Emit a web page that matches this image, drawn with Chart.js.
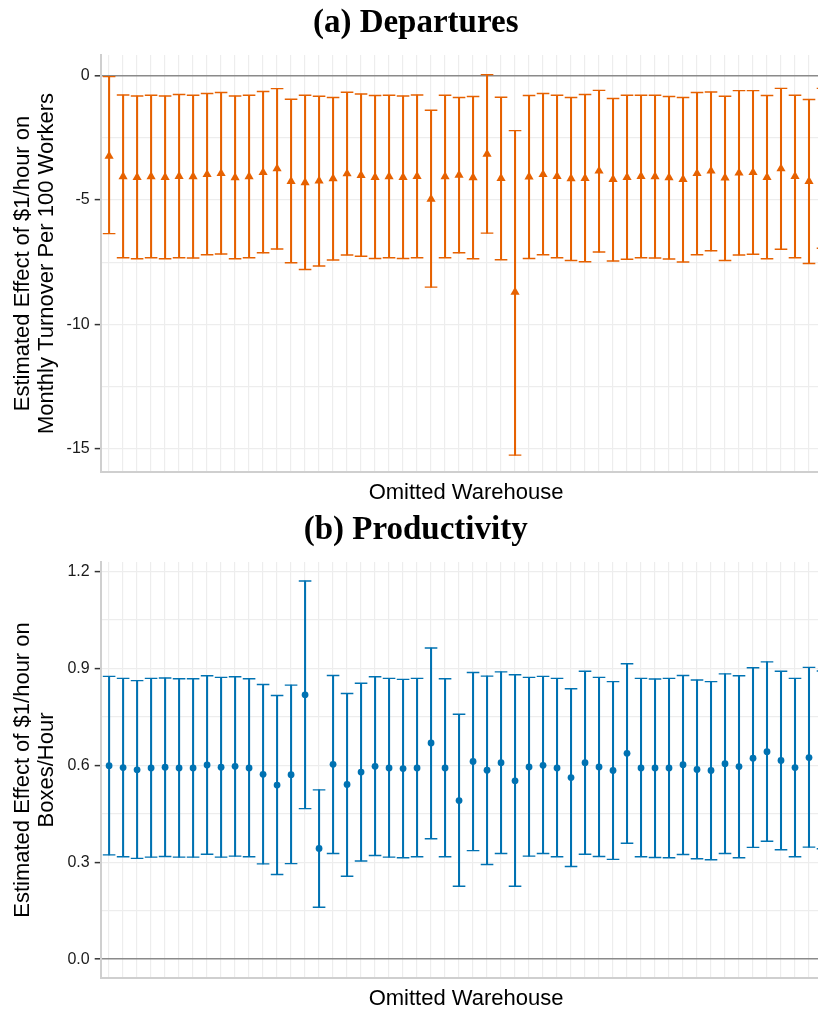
<!DOCTYPE html>
<html>
<head>
<meta charset="utf-8">
<title>Leave-one-out estimates</title>
<script src="https://cdn.jsdelivr.net/npm/chart.js@4.4.1/dist/chart.umd.min.js"></script>
<style>
  html, body { margin: 0; padding: 0; background: #fff; overflow: hidden; }
  .panel { position: absolute; left: 0; width: 840px; }
</style>
</head>
<body>
<div class="panel" style="top:0;height:505px"><canvas id="departures" width="840" height="505"></canvas></div>
<div class="panel" style="top:507px;height:504px"><canvas id="productivity" width="840" height="504"></canvas></div>
<script>
// one estimate per omitted warehouse
var warehouses = [1, 2, 3, 4, 5, 6, 7, 8, 9, 10, 11, 12, 13, 14, 15, 16, 17, 18, 19, 20,
  21, 22, 23, 24, 25, 26, 27, 28, 29, 30, 31, 32, 33, 34, 35, 36, 37, 38, 39, 40,
  41, 42, 43, 44, 45, 46, 47, 48, 49, 50, 51, 52];

// (a) departures: point estimate and 95% CI
var depEst = [-3.23, -4.06, -4.09, -4.06, -4.09, -4.05, -4.06, -3.97, -3.93, -4.10,
  -4.06, -3.89, -3.74, -4.25, -4.30, -4.23, -4.14, -3.94, -4.01, -4.09,
  -4.06, -4.09, -4.05, -4.96, -4.06, -4.00, -4.10, -3.15, -4.13, -8.70,
  -4.07, -3.97, -4.05, -4.14, -4.13, -3.83, -4.17, -4.09, -4.05, -4.06,
  -4.10, -4.17, -3.93, -3.83, -4.11, -3.91, -3.89, -4.09, -3.74, -4.05,
  -4.25, -3.73];
var depLo = [-6.35, -7.32, -7.36, -7.32, -7.36, -7.32, -7.33, -7.20, -7.17, -7.36,
  -7.32, -7.12, -6.97, -7.52, -7.79, -7.65, -7.41, -7.21, -7.26, -7.35,
  -7.32, -7.35, -7.32, -8.50, -7.32, -7.12, -7.36, -6.33, -7.40, -15.25,
  -7.35, -7.20, -7.32, -7.43, -7.48, -7.09, -7.45, -7.38, -7.32, -7.33,
  -7.37, -7.49, -7.20, -7.04, -7.43, -7.21, -7.18, -7.36, -6.98, -7.32,
  -7.55, -6.94];
var depHi = [-0.04, -0.78, -0.82, -0.79, -0.82, -0.76, -0.79, -0.72, -0.68, -0.82,
  -0.79, -0.64, -0.52, -0.95, -0.79, -0.83, -0.88, -0.67, -0.74, -0.80,
  -0.79, -0.82, -0.78, -1.39, -0.79, -0.88, -0.84, 0.04, -0.87, -2.21,
  -0.80, -0.72, -0.79, -0.88, -0.76, -0.59, -0.92, -0.79, -0.79, -0.79,
  -0.84, -0.88, -0.68, -0.66, -0.83, -0.60, -0.60, -0.80, -0.51, -0.79,
  -0.96, -0.51];

// (b) productivity
var prodEst = [0.599, 0.593, 0.586, 0.592, 0.594, 0.592, 0.592, 0.601, 0.594, 0.597,
  0.592, 0.572, 0.539, 0.571, 0.818, 0.343, 0.603, 0.541, 0.579, 0.597,
  0.592, 0.590, 0.592, 0.669, 0.592, 0.491, 0.612, 0.585, 0.608, 0.552,
  0.595, 0.600, 0.592, 0.562, 0.608, 0.595, 0.584, 0.637, 0.592, 0.592,
  0.592, 0.602, 0.587, 0.584, 0.605, 0.596, 0.622, 0.642, 0.615, 0.593,
  0.624, 0.617];
var prodLo = [0.323, 0.317, 0.312, 0.316, 0.318, 0.316, 0.316, 0.325, 0.316, 0.319,
  0.317, 0.295, 0.262, 0.296, 0.466, 0.161, 0.327, 0.257, 0.304, 0.321,
  0.316, 0.314, 0.317, 0.373, 0.317, 0.226, 0.336, 0.293, 0.327, 0.226,
  0.319, 0.327, 0.317, 0.287, 0.325, 0.318, 0.309, 0.359, 0.317, 0.315,
  0.314, 0.324, 0.311, 0.308, 0.327, 0.314, 0.346, 0.365, 0.339, 0.317,
  0.347, 0.342];
var prodHi = [0.875, 0.869, 0.862, 0.869, 0.870, 0.868, 0.868, 0.877, 0.872, 0.874,
  0.868, 0.850, 0.816, 0.848, 1.170, 0.524, 0.878, 0.822, 0.854, 0.874,
  0.869, 0.866, 0.869, 0.963, 0.868, 0.758, 0.887, 0.876, 0.889, 0.880,
  0.872, 0.875, 0.869, 0.837, 0.891, 0.872, 0.859, 0.914, 0.869, 0.867,
  0.869, 0.878, 0.864, 0.859, 0.883, 0.877, 0.902, 0.920, 0.891, 0.869,
  0.903, 0.892];

// y tick labels
var depTicks = [0, -5, -10, -15];
var prodTicks = [0.0, 0.3, 0.6, 0.9, 1.2];

Chart.defaults.font.family = "'Liberation Sans', Arial, sans-serif";

function onStep(v, step) {
  return Math.abs(v / step - Math.round(v / step)) < 1e-6;
}

function errorbarChart(id, cfg) {
  var pts = function(vals) {
    return warehouses.map(function(w, i) { return {x: w, y: vals[i]}; });
  };
  var isMajor = function(v) {
    return cfg.labels.some(function(t) { return Math.abs(t - v) < 1e-6; });
  };

  return new Chart(document.getElementById(id), {
    type: 'bar',
    data: {
      datasets: [
        { // point estimates
          type: 'scatter',
          data: pts(cfg.est),
          pointStyle: cfg.marker,
          pointRadius: cfg.markerSize,
          pointBackgroundColor: cfg.color,
          pointBorderWidth: 0,
          order: 0
        },
        { // upper caps
          type: 'scatter',
          data: pts(cfg.hi),
          pointStyle: 'line',
          pointRadius: 6.3,
          pointBorderColor: cfg.color,
          pointBorderWidth: 1.4,
          order: 1
        },
        { // lower caps
          type: 'scatter',
          data: pts(cfg.lo),
          pointStyle: 'line',
          pointRadius: 6.3,
          pointBorderColor: cfg.color,
          pointBorderWidth: 1.4,
          order: 1
        },
        { // whiskers as thin floating bars
          type: 'bar',
          data: warehouses.map(function(w, i) { return {x: w, y: [cfg.lo[i], cfg.hi[i]]}; }),
          backgroundColor: cfg.color,
          barThickness: 1.4,
          order: 2
        }
      ]
    },
    options: {
      responsive: false,
      animation: false,
      events: [],
      layout: {padding: {top: 0, right: 8.6, bottom: 0, left: 0}},
      plugins: {
        legend: {display: false},
        tooltip: {enabled: false},
        title: {
          display: true,
          text: cfg.title,
          color: '#000',
          font: {family: "'Liberation Serif', 'Times New Roman', serif", size: 33, weight: 'bold', lineHeight: 1.2},
          padding: {top: 4, bottom: 11.4}
        }
      },
      scales: {
        x: {
          type: 'linear',
          min: 0.4,
          max: 52.6,
          offset: false,
          border: {color: '#CFCFCF', width: 2},
          grid: {offset: false, color: '#EDEDED', lineWidth: 1.2, drawTicks: false},
          ticks: {display: false, stepSize: 1, autoSkip: false, includeBounds: false},
          title: {
            display: true,
            text: 'Omitted Warehouse',
            color: '#000',
            font: {size: 22, lineHeight: 1.1},
            padding: {top: 0, bottom: 0}
          },
          afterBuildTicks: function(s) {
            s.ticks = s.ticks.filter(function(t) { return onStep(t.value, 1); });
          },
          afterFit: function(s) { s.height = 33; }
        },
        y: {
          min: cfg.yMin,
          max: cfg.yMax,
          border: {color: '#CFCFCF', width: 2},
          grid: {
            color: function(c) { return c.tick && Math.abs(c.tick.value) < 1e-9 ? '#8A8A8A' : '#EDEDED'; },
            lineWidth: function(c) { return c.tick && Math.abs(c.tick.value) < 1e-9 ? 1.6 : 1.2; },
            tickColor: function(c) { return c.tick && isMajor(c.tick.value) ? '#333' : 'rgba(0,0,0,0)'; },
            tickLength: 6,
            tickWidth: 1.5
          },
          ticks: {
            stepSize: cfg.step,
            autoSkip: false,
            includeBounds: false,
            padding: 5,
            color: '#1a1a1a',
            font: {size: 16},
            callback: function(v) { return isMajor(v) ? cfg.fmt(v) : ''; }
          },
          title: {
            display: true,
            text: cfg.yTitle,
            color: '#000',
            font: {size: 22, lineHeight: 1.1},
            padding: {top: 11, bottom: 0}
          },
          afterBuildTicks: function(s) {
            s.ticks = s.ticks.filter(function(t) {
              return onStep(t.value, cfg.step) && t.value >= cfg.yMin && t.value <= cfg.yMax;
            });
          },
          afterFit: function(s) { s.width = 100.7; }
        }
      }
    }
  });
}

errorbarChart('departures', {
  title: '(a) Departures',
  yTitle: ['Estimated Effect of $1/hour on', 'Monthly Turnover Per 100 Workers'],
  est: depEst, lo: depLo, hi: depHi,
  color: '#E66100',
  marker: 'triangle',
  markerSize: 5.3,
  yMin: -15.93, yMax: 0.83, step: 2.5,
  labels: depTicks,
  fmt: function(v) { return String(Math.round(v)); }
});

errorbarChart('productivity', {
  title: '(b) Productivity',
  yTitle: ['Estimated Effect of $1/hour on', 'Boxes/Hour'],
  est: prodEst, lo: prodLo, hi: prodHi,
  color: '#0072B2',
  marker: 'circle',
  markerSize: 3.4,
  yMin: -0.058, yMax: 1.229, step: 0.15,
  labels: prodTicks,
  fmt: function(v) { return v.toFixed(1); }
});
</script>
</body>
</html>
